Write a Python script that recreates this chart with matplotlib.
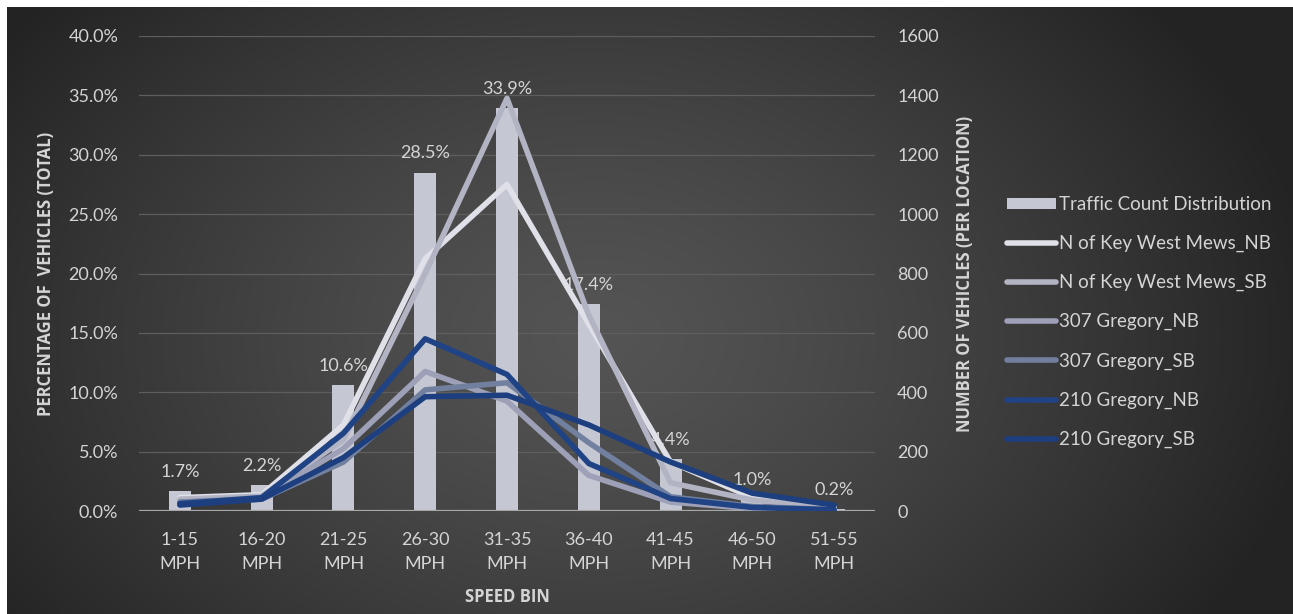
import numpy as np
import matplotlib
matplotlib.use('Agg')
import matplotlib.pyplot as plt
from matplotlib.patches import Patch
from matplotlib.lines import Line2D

plt.rcParams['font.family'] = ['Lato', 'DejaVu Sans']

speed_bins = ['1-15\nMPH', '16-20\nMPH', '21-25\nMPH', '26-30\nMPH', '31-35\nMPH',
              '36-40\nMPH', '41-45\nMPH', '46-50\nMPH', '51-55\nMPH']
pct_total = [1.7, 2.2, 10.6, 28.5, 33.9, 17.4, 4.4, 1.0, 0.2]

kw_nb = [45, 55, 290, 850, 1100, 630, 165, 45, 14]
kw_sb = [40, 50, 240, 800, 1390, 660, 95, 37, 10]
g307_nb = [30, 45, 210, 470, 370, 120, 30, 8, 3]
g307_sb = [30, 40, 165, 408, 432, 230, 48, 15, 5]
g210_nb = [25, 45, 262, 580, 460, 160, 42, 12, 4]
g210_sb = [20, 40, 180, 385, 390, 290, 165, 60, 20]

series = [
    ('N of Key West Mews_NB', kw_nb, '#dfe0e8'),
    ('N of Key West Mews_SB', kw_sb, '#b2b4c4'),
    ('307 Gregory_NB', g307_nb, '#9da0b7'),
    ('307 Gregory_SB', g307_sb, '#72809f'),
    ('210 Gregory_NB', g210_nb, '#1f4385'),
    ('210 Gregory_SB', g210_sb, '#1d3f80'),
]

txt = '#d4d4d4'
bold_font = ['Open Sans', 'DejaVu Sans']
W, H = 1293, 614
fig = plt.figure(figsize=(W / 100, H / 100), dpi=100, facecolor='white')

# dark radial backdrop, leaving the thin white margin top/left
bg = fig.add_axes([7 / W, 0, 1 - 7 / W, (H - 7) / H])
yy, xx = np.mgrid[0:H - 7, 0:W - 7]
r = np.sqrt(((xx - 590) / 720.0) ** 2 + ((yy - 330) / 520.0) ** 2)
shade = 0.33 - 0.19 * np.clip(r, 0, 1) ** 1.3
bg.imshow(np.dstack([shade] * 3), aspect='auto', extent=(0, 1, 0, 1))
bg.set_axis_off()

ax1 = fig.add_axes([139 / W, (H - 511) / H, (875 - 139) / W, (511 - 36) / H])
ax1.patch.set_alpha(0)
x = np.arange(len(speed_bins))

bars = ax1.bar(x, pct_total, width=0.27, color='#c5c7d3', zorder=2)
for xi, v in zip(x, pct_total):
    ax1.annotate('%.1f%%' % v, (xi, v), xytext=(0, 8), textcoords='offset points',
                 ha='center', va='bottom', color=txt, fontsize=13)

ax1.set_ylim(0, 40)
ax1.set_xlim(-0.5, len(speed_bins) - 0.5)
ax1.set_yticks(np.arange(0, 41, 5))
ax1.set_yticklabels(['%.1f%%' % v for v in np.arange(0, 41, 5)])
ax1.set_xticks(x)
ax1.set_xticklabels(speed_bins, linespacing=1.6)
ax1.grid(axis='y', color='#5e5e5e', lw=0.9, zorder=0)
ax1.axhline(0, color='#a8a8a8', lw=1.6, zorder=2)
ax1.tick_params(axis='both', length=0, colors=txt, labelsize=13)
ax1.tick_params(axis='y', pad=15)
ax1.tick_params(axis='x', pad=15)
for s in ax1.spines.values():
    s.set_visible(False)
ax1.set_ylabel('PERCENTAGE OF  VEHICLES (TOTAL)', color=txt, fontsize=12,
               fontweight='bold', family=bold_font)
ax1.yaxis.set_label_coords(-0.114, 0.5)
ax1.set_xlabel('SPEED BIN', color=txt, fontsize=12, fontweight='bold', family=bold_font)
ax1.xaxis.set_label_coords(0.5, -0.162)

ax2 = ax1.twinx()
for name, vals, col in series:
    ax2.plot(x, vals, color=col, lw=4.0, solid_joinstyle='round', solid_capstyle='round')
ax2.set_ylim(0, 1600)
ax2.set_yticks(np.arange(0, 1601, 200))
ax2.tick_params(axis='y', length=0, colors=txt, labelsize=13, pad=16)
for s in ax2.spines.values():
    s.set_visible(False)
ax2.set_ylabel('NUMBER OF VEHICLES (PER LOCATION)', color=txt, fontsize=12,
               fontweight='bold', family=bold_font)
ax2.yaxis.set_label_coords(1.110, 0.5)

handles = [Patch(facecolor='#c5c7d3', edgecolor='none', label='Traffic Count Distribution')]
for name, vals, col in series:
    handles.append(Line2D([], [], color=col, lw=4.0, solid_capstyle='round', label=name))
leg = fig.legend(handles=handles, loc='center left', bbox_to_anchor=(998 / W, 1 - 322 / H),
                 frameon=False, fontsize=13.5, labelcolor=txt, handlelength=2.6,
                 handleheight=0.5, handletextpad=0.15, labelspacing=1.17, borderpad=0)

fig.savefig('out.png', dpi=100, facecolor=fig.get_facecolor())
